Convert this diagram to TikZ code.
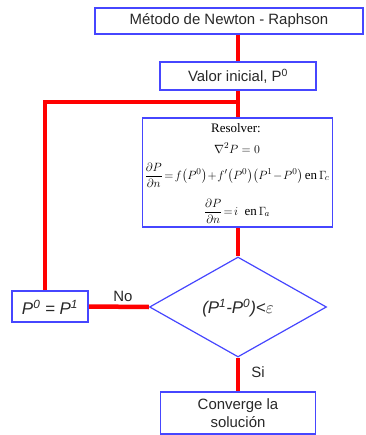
\documentclass[tikz,border=0pt]{standalone}
\usepackage{amsmath}
\usepackage{fontspec}
\setmainfont{Liberation Sans}
\newfontfamily\serifeq{Liberation Serif}
\usetikzlibrary{shapes.geometric,backgrounds}
\definecolor{boxblue}{RGB}{70,70,255}
\definecolor{txt}{RGB}{40,40,40}
\newcommand{\enw}{\text{\serifeq en}}
\begin{document}
\begin{tikzpicture}[x=1bp,y=-1bp,
  box/.style={draw=boxblue, line width=1.2bp, fill=white, inner sep=0pt, text=txt, font=\fontsize{15}{18}\selectfont},
  link/.style={draw=red, line width=4.5bp},
  lbl/.style={text=txt, font=\fontsize{15}{18}\selectfont, inner sep=0pt},
  eq/.style={text=black, inner sep=0pt, font=\serifeq\fontsize{13}{15}\selectfont}]
\useasboundingbox (0,0) rectangle (365,435);
% nodes
\node[box, minimum width=268bp, minimum height=26bp] (title) at (229,21) {Método de Newton - Raphson};
\node[box, minimum width=156bp, minimum height=28bp] (valor) at (238,76) {Valor inicial, P\textsuperscript{0}};
\node[box, minimum width=190bp, minimum height=109bp] (res) at (237.5,172.5) {};
\node[box, diamond, minimum width=177bp, minimum height=100bp, aspect=1.77] (dia) at (238,307) {};
\node[box, minimum width=76bp, minimum height=31bp] (p0) at (50,306.5) {};
\node[box, minimum width=155bp, minimum height=42bp, align=center] (conv) at (238,413) {Converge la\\solución};
\coordinate (j) at (238,102);
\coordinate (k) at (45,102);
% connectors
\begin{pgfonlayer}{background}
\draw[link] (valor.north) -- (valor.north |- title.south);
\draw[link] (valor.south) -- (valor.south |- res.north);
\draw[link, line join=miter] (j) -- (k) -- (k |- p0.north);
\draw[link] (dia.north) -- (dia.north |- res.south);
\draw[link] (p0.east) -- (dia.west);
\draw[link] (dia.south) -- (conv.north);
\end{pgfonlayer}
% texts
\node[lbl, font=\fontsize{17}{20}\selectfont\itshape] (p0t) at (50,307) {P\textsuperscript{0} = P\textsuperscript{1}};
\node[lbl, font=\fontsize{17}{20}\selectfont\itshape] (diat) at (238,308) {(P\textsuperscript{1}-P\textsuperscript{0})<$\varepsilon$};
\node[lbl] (no) at (123,296) {No};
\node[lbl] (si) at (258,372) {Si};
\node[eq] (e1) at (236,128) {Resolver:};
\node[eq] (e2) at (237,148) {$\nabla^2 P = 0$};
\node[eq] (e3) at (237,175) {$\medmuskip=1mu\thickmuskip=2mu\dfrac{\partial P}{\partial n} = f\!\left(P^0\right) + f'\!\left(P^0\right)\!\left(P^1 - P^0\right)\enw\,\Gamma_{\!c}$};
\node[eq] (e4) at (237,211) {$\thickmuskip=2mu\dfrac{\partial P}{\partial n} = i\ \ \enw\,\Gamma_{\!a}$};
\end{tikzpicture}
\end{document}
